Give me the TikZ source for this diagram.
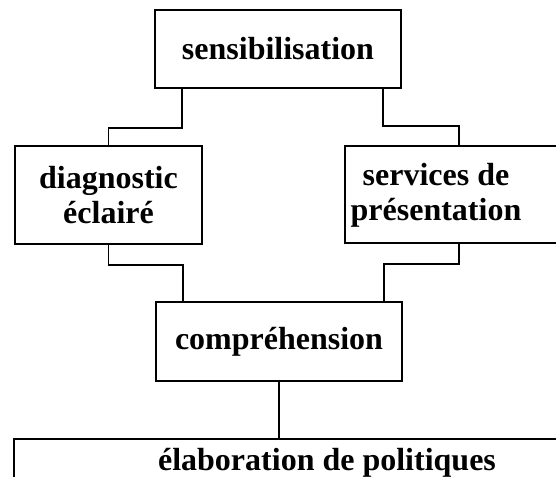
\documentclass[tikz,border=0pt]{standalone}
\usepackage{fontspec}
\setmainfont{Liberation Serif}
\usetikzlibrary{%
	calc,%
	positioning,%
}
\tikzset{
	nodes={align=center},%
	stagebox/.style={%
			draw,%
			rectangle,%
			line width=1pt,%
			inner sep=0pt},%
	stagetext/.style={%
			font={\bfseries\fontsize{16}{17.5}\selectfont},%
			inner sep=0pt},%
	link/.style={%
			line width=0.7pt},%
}

\begin{document}
\begin{tikzpicture}[x=0.5pt, y=-0.5pt]%
	\useasboundingbox (0,0) rectangle (556,476);

	\node[stagebox, stagetext, minimum width=123pt, minimum height=39pt] (sens) at (278,49) {sensibilisation};
	\node[stagebox, stagetext, minimum width=93.5pt, minimum height=49pt] (diag) at (108.5,195) {diagnostic\\ éclairé};
	\node[stagebox, minimum width=120pt, minimum height=48.5pt] (serv) at (465,194.5) {};
	\node[stagetext] (servtext) at (436,195) {services de\\ présentation};
	\node[stagebox, stagetext, minimum width=123pt, minimum height=39.5pt] (comp) at (279,341.5) {compréhension};
	\node[stagebox, anchor=north west, minimum width=330pt, minimum height=45pt] (poli) at (13,438) {};
	\node[stagetext, anchor=base] (politext) at (327,470) {élaboration de politiques};

	\draw[link] ($(sens.south west)+(28,0)$) -- ++(0,39) -| (diag.north);
	\draw[link] ($(sens.south east)+(-19,0)$) -- ++(0,37) -| ($(serv.north west)+(115,0)$);
	\draw[link] (diag.south) -- ++(0,20) -| ($(comp.north west)+(28,0)$);
	\draw[link] ($(serv.south west)+(115,0)$) -- ++(0,20) -| ($(comp.north east)+(-19,0)$);
	\draw[link] (comp.south) -- (comp.south |- poli.north);
\end{tikzpicture}
\end{document}
